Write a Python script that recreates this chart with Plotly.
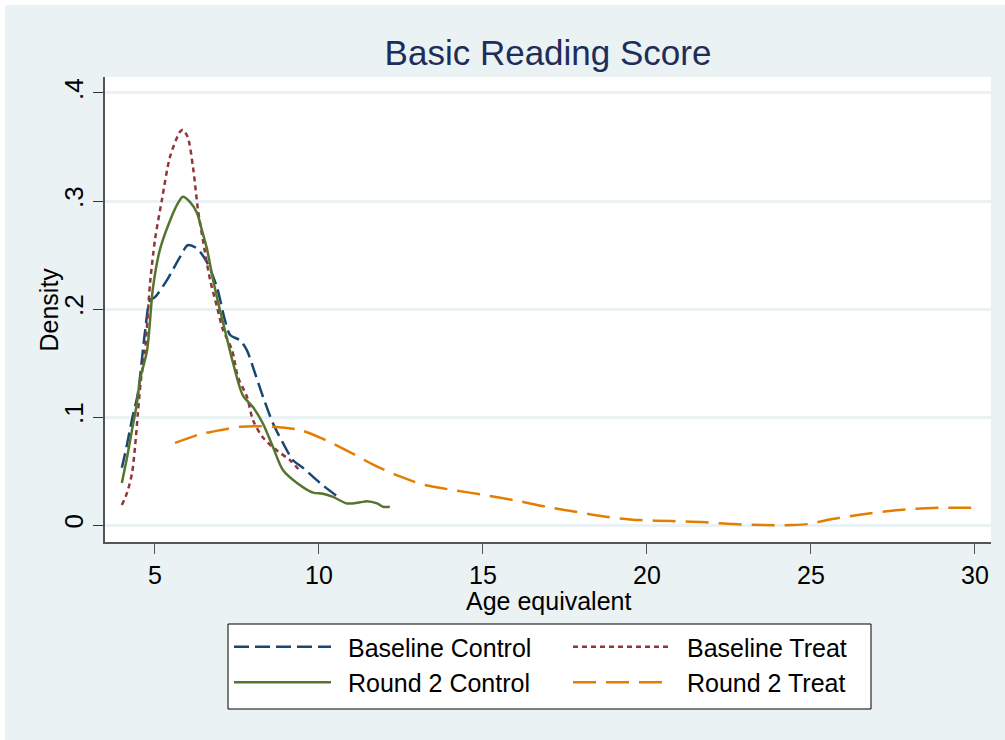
import plotly.graph_objects as go

# Kernel density estimates of the Basic Reading Score (age equivalent)
bc_x = [3.99, 4.15, 4.30, 4.48, 4.70, 4.85, 5.0, 5.37, 5.76, 6.0, 6.28, 6.59, 6.89, 7.13, 7.29,
        7.59, 7.80, 7.99, 8.29, 8.60, 8.90, 9.21, 9.51, 10.03, 10.58]
bc_y = [0.053, 0.075, 0.098, 0.122, 0.180, 0.208, 0.211, 0.227, 0.248, 0.259, 0.256, 0.243, 0.220,
        0.190, 0.176, 0.171, 0.162, 0.146, 0.119, 0.094, 0.076, 0.060, 0.053, 0.039, 0.026]

bt_x = [3.99, 4.15, 4.30, 4.39, 4.48, 4.57, 4.70, 4.85, 5.0, 5.21, 5.46, 5.76, 5.85, 6.0, 6.16,
        6.31, 6.46, 6.68, 6.89, 7.07, 7.35, 7.53, 7.80, 7.99, 8.29, 8.72, 9.12, 9.45]
bt_y = [0.0185, 0.030, 0.048, 0.072, 0.104, 0.134, 0.162, 0.224, 0.264, 0.301, 0.341, 0.364,
        0.366, 0.359, 0.331, 0.292, 0.264, 0.227, 0.202, 0.181, 0.162, 0.137, 0.119, 0.097,
        0.081, 0.069, 0.060, 0.049]

rc_x = [3.99, 4.15, 4.30, 4.45, 4.54, 4.76, 4.94, 5.15, 5.46, 5.70, 5.85, 6.07, 6.28, 6.43, 6.59,
        6.77, 6.98, 7.20, 7.38, 7.68, 7.99, 8.29, 8.60, 8.90, 9.33, 9.82, 10.12, 10.43, 10.85,
        11.25, 11.46, 11.77, 11.95, 12.16]
rc_y = [0.039, 0.063, 0.088, 0.113, 0.134, 0.162, 0.220, 0.255, 0.282, 0.298, 0.304, 0.299,
        0.289, 0.273, 0.255, 0.227, 0.199, 0.172, 0.150, 0.120, 0.109, 0.094, 0.072, 0.051,
        0.039, 0.030, 0.029, 0.026, 0.020, 0.021, 0.022, 0.020, 0.017, 0.017]

rt_x = [5.61, 6.46, 6.68, 7.59, 8.60, 9.42, 10.03, 10.85, 11.65, 12.47, 13.23, 14.18, 15.0,
        15.95, 16.92, 17.87, 18.81, 19.76, 20.73, 21.68, 22.62, 23.57, 24.39, 24.94, 25.49,
        26.43, 27.38, 28.2, 29.02, 29.97]
rt_y = [0.076, 0.085, 0.086, 0.091, 0.091, 0.088, 0.081, 0.069, 0.056, 0.045, 0.037, 0.032,
        0.028, 0.023, 0.017, 0.012, 0.0074, 0.0046, 0.0037, 0.0028, 0.0009, 0.0, 0.0, 0.001,
        0.0046, 0.0093, 0.013, 0.015, 0.016, 0.016]

series_names = ["Baseline Control", "Baseline Treat", "Round 2 Control", "Round 2 Treat"]
x_ticks = [5, 10, 15, 20, 25, 30]
y_ticks = [0, 0.1, 0.2, 0.3, 0.4]
y_tick_text = ["0", ".1", ".2", ".3", ".4"]

FONT = "Liberation Sans, Arial, sans-serif"
BG = "#EAF2F3"

# colour, dash pattern and legend column for each series
styles = [
    dict(color="#1A476F", dash="15px,6px", legend="legend"),
    dict(color="#90353B", dash="5px,4px", legend="legend2"),
    dict(color="#55752F", dash="solid", legend="legend"),
    dict(color="#E37E00", dash="23px,10px", legend="legend2"),
]

fig = go.Figure()
for name, xs, ys, st in zip(series_names, [bc_x, bt_x, rc_x, rt_x], [bc_y, bt_y, rc_y, rt_y], styles):
    fig.add_trace(go.Scatter(
        x=xs, y=ys, name="\u00a0\u2009" + name, mode="lines", legend=st["legend"],
        line=dict(color=st["color"], dash=st["dash"], width=2.5, shape="spline", smoothing=0.8),
    ))

PW, PH = 886, 465  # plot area in px
L, T = 105, 77


def px_x(p):
    return (p - L) / PW


def px_y(p):
    return 1 - (p - T) / PH


legend_common = dict(orientation="v", yanchor="top", xanchor="left", bgcolor="rgba(0,0,0,0)",
                     borderwidth=0, font=dict(size=25), itemwidth=97, traceorder="normal",
                     y=px_y(624))

fig.update_layout(
    width=1005, height=740,
    margin=dict(l=105, r=14, t=77, b=198),
    paper_bgcolor=BG, plot_bgcolor="white",
    font=dict(family=FONT, color="black", size=25),
    title=dict(text="Basic Reading Score", font=dict(family=FONT, size=35, color="#1F2D5A"),
               x=0.5, xref="paper", xanchor="center", y=1 - 53 / 740, yref="container",
               yanchor="middle"),
    xaxis=dict(range=[3.476, 30.488], tickvals=x_ticks, ticks="outside", ticklen=10,
               tickcolor="#555555", tickwidth=1.3, showline=True, linecolor="#555555",
               linewidth=1.5, showgrid=False, zeroline=False,
               tickfont=dict(size=25), automargin=False),
    yaxis=dict(range=[-0.0157, 0.4148], tickvals=y_ticks, ticktext=y_tick_text,
               ticks="outside", ticklen=10, tickcolor="#333333", tickwidth=1.3,
               showline=True, linecolor="#555555", linewidth=1.5, showgrid=True,
               gridcolor=BG, gridwidth=2.5, zeroline=False, tickangle=-90,
               tickfont=dict(size=26), automargin=False),
    legend=dict(legend_common, x=px_x(229)),
    legend2=dict(legend_common, x=px_x(568)),
    annotations=[
        dict(text="Age equivalent", xref="paper", yref="paper", x=0.5, y=px_y(601),
             xanchor="center", yanchor="middle", showarrow=False, font=dict(size=25)),
        dict(text="Density", xref="paper", yref="paper", x=px_x(48), y=0.5, textangle=-90,
             xanchor="center", yanchor="middle", showarrow=False, font=dict(size=25)),
    ],
    shapes=[
        # legend frame
        dict(type="rect", xref="paper", yref="paper", x0=px_x(228), x1=px_x(871),
             y0=px_y(709), y1=px_y(624), fillcolor="white", line=dict(color="black", width=1),
             layer="below"),
        # white page edge
        dict(type="rect", xref="paper", yref="paper", x0=-0.3, x1=1.3,
             y0=px_y(5), y1=1.4, fillcolor="white", line=dict(width=0), layer="above"),
        dict(type="rect", xref="paper", yref="paper", x0=-0.3, x1=px_x(5),
             y0=-0.6, y1=1.4, fillcolor="white", line=dict(width=0), layer="above"),
    ],
)

fig.write_html("out.html")
